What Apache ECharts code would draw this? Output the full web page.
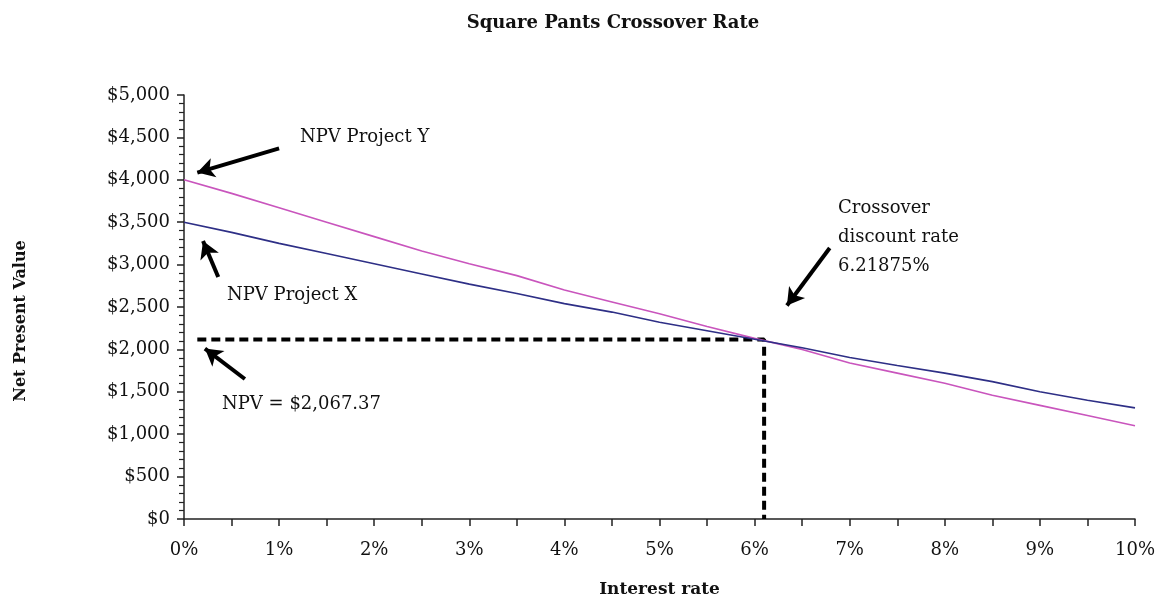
<!DOCTYPE html>
<html>
<head>
<meta charset="utf-8">
<script src="https://cdn.jsdelivr.net/npm/echarts@6/dist/echarts.min.js"></script>
<style>
  html, body { margin: 0; padding: 0; background: #fff; }
  #chart { width: 1166px; height: 603px; }
</style>
</head>
<body>
<div id="chart"></div>
<script>
// interest rates, %
var rates = [0, 0.5, 1, 1.5, 2, 2.5, 3, 3.5, 4, 4.5, 5, 5.5, 6, 6.5, 7, 7.5, 8, 8.5, 9, 9.5, 10];
var npvY = [4000, 3840, 3670, 3500, 3330, 3160, 3010, 2870, 2700, 2560, 2420, 2270, 2130, 2000, 1840, 1720, 1600, 1460, 1340, 1220, 1100];
var npvX = [3500, 3380, 3250, 3130, 3010, 2890, 2770, 2660, 2540, 2440, 2320, 2220, 2120, 2020, 1905, 1810, 1720, 1620, 1500, 1400, 1310];

// dashed guide at the crossover
var guideX = [0.14, 6.1, 6.1];
var guideY = [2116, 2116, 0];

// annotation arrows: [fromX, fromY, toX, toY] in data units
var arrows = [
  [1.0, 4371, 0.14, 4085],
  [0.36, 2853, 0.2, 3278],
  [0.64, 1651, 0.22, 2010],
  [6.79, 3195, 6.34, 2517]
];

var serif = "'DejaVu Serif', 'Liberation Serif', serif";

function pairs(xs, ys) {
  return xs.map(function (x, i) { return [x, ys[i]]; });
}

var myChart = echarts.init(document.getElementById("chart"));
myChart.setOption({
  animation: false,
  title: {
    text: "Square Pants Crossover Rate",
    left: 608,
    top: 9,
    textAlign: "center",
    textStyle: { fontFamily: serif, fontSize: 18, fontWeight: "bold", color: "#111" }
  },
  grid: { left: 184, right: 31, top: 95, bottom: 84 },
  xAxis: {
    type: "value",
    min: 0,
    max: 10,
    interval: 1,
    name: "Interest rate",
    nameLocation: "middle",
    nameGap: 62,
    nameTextStyle: { fontFamily: serif, fontSize: 17, fontWeight: "bold", color: "#111" },
    axisLine: { show: true, lineStyle: { color: "#222", width: 1.5 } },
    axisTick: { show: true, length: 7, lineStyle: { color: "#222", width: 1.5 } },
    minorTick: { show: true, splitNumber: 2, length: 7, lineStyle: { color: "#222", width: 1.5 } },
    axisLabel: {
      margin: 22,
      fontFamily: serif, fontSize: 18, color: "#111",
      formatter: function (v) { return v + "%"; }
    },
    splitLine: { show: false }
  },
  yAxis: {
    type: "value",
    min: 0,
    max: 5000,
    interval: 500,
    name: "Net Present Value",
    nameLocation: "middle",
    nameGap: 155,
    nameTextStyle: { fontFamily: serif, fontSize: 16, fontWeight: "bold", color: "#111", padding: [0, 28, 0, 0] },
    axisLine: { show: true, lineStyle: { color: "#222", width: 1.5 } },
    axisTick: { show: true, length: 7, lineStyle: { color: "#222", width: 1.5 } },
    minorTick: { show: true, splitNumber: 5, length: 5, lineStyle: { color: "#222", width: 1.2 } },
    axisLabel: {
      margin: 14,
      fontFamily: serif, fontSize: 18, color: "#111",
      formatter: function (v) { return "$" + v.toLocaleString("en-US"); }
    },
    splitLine: { show: false }
  },
  series: [
    {
      name: "NPV Project Y",
      type: "line",
      data: pairs(rates, npvY),
      symbol: "none",
      lineStyle: { color: "#c955bd", width: 1.6 }
    },
    {
      name: "NPV Project X",
      type: "line",
      data: pairs(rates, npvX),
      symbol: "none",
      lineStyle: { color: "#2e2f86", width: 1.6 }
    },
    {
      name: "guide",
      type: "line",
      data: pairs(guideX, guideY),
      symbol: "none",
      z: 1,
      lineStyle: { color: "#000", width: 4, type: [9, 5] },
      markLine: {
        silent: true,
        symbol: ["none", "arrow"],
        symbolSize: [15, 17],
        label: { show: false },
        lineStyle: { color: "#000", width: 4, type: "solid" },
        data: arrows.map(function (a) {
          return [{ coord: [a[0], a[1]] }, { coord: [a[2], a[3]] }];
        })
      }
    }
  ],
  graphic: [
    { type: "text", left: 300, top: 128, style: { text: "NPV Project Y", font: "18px " + serif, fill: "#111" } },
    { type: "text", left: 227, top: 286, style: { text: "NPV Project X", font: "18px " + serif, fill: "#111" } },
    { type: "text", left: 222, top: 395, style: { text: "NPV = $2,067.37", font: "18px " + serif, fill: "#111" } },
    { type: "text", left: 838, top: 194, style: { text: "Crossover\ndiscount rate\n6.21875%", font: "18px " + serif, fill: "#111", lineHeight: 29 } }
  ]
});
</script>
</body>
</html>
